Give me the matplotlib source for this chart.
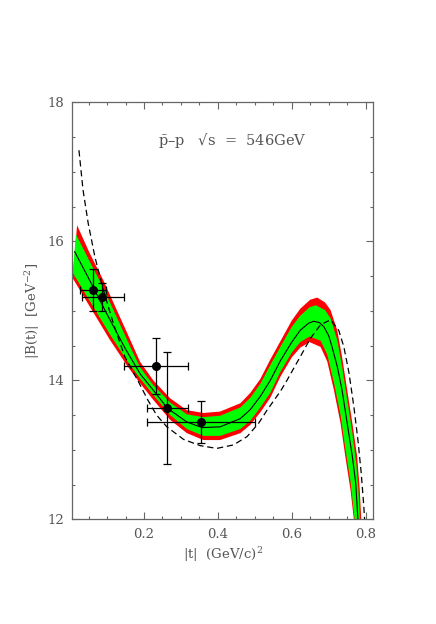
import numpy as np
import matplotlib
matplotlib.use("Agg")
import matplotlib.pyplot as plt
from matplotlib.ticker import MultipleLocator

# ---------------- data ----------------
# data points
pt_x = [0.061, 0.087, 0.233, 0.263, 0.354]
pt_y = [15.30, 15.20, 14.21, 13.60, 13.40]
pt_xlo = [0.026, 0.031, 0.147, 0.207, 0.207]
pt_xhi = [0.098, 0.147, 0.320, 0.320, 0.501]
pt_yerr = [0.30, 0.20, 0.40, 0.80, 0.30]

# central fit curve
cen_x = [0.0125, 0.05, 0.10, 0.15, 0.19, 0.225, 0.263, 0.316, 0.357, 0.406,
         0.461, 0.488, 0.515, 0.542, 0.569, 0.600, 0.623, 0.645, 0.659, 0.675,
         0.687, 0.700, 0.709, 0.723, 0.736, 0.750, 0.764, 0.773, 0.779, 0.782]
cen_y = [15.85, 15.47, 14.95, 14.45, 14.09, 13.86, 13.60, 13.40, 13.32, 13.33,
         13.45, 13.58, 13.77, 14.00, 14.28, 14.55, 14.72, 14.82, 14.85, 14.83,
         14.77, 14.64, 14.48, 14.20, 13.86, 13.38, 12.90, 12.52, 12.00, 11.80]

# outer (red) band
red_up_x = [0.019, 0.053, 0.090, 0.163, 0.189, 0.225, 0.271, 0.316, 0.361, 0.406,
            0.461, 0.488, 0.515, 0.542, 0.569, 0.600, 0.623, 0.650, 0.669, 0.690,
            0.705, 0.723, 0.736, 0.750, 0.764, 0.777, 0.784, 0.788, 0.790]
red_up_y = [16.23, 15.83, 15.44, 14.58, 14.27, 14.00, 13.74, 13.57, 13.53, 13.55,
            13.67, 13.82, 14.02, 14.30, 14.56, 14.86, 15.03, 15.16, 15.19, 15.12,
            15.01, 14.72, 14.34, 13.86, 13.38, 12.90, 12.42, 12.00, 11.80]
red_lo_x = [0.007, 0.050, 0.108, 0.153, 0.189, 0.225, 0.271, 0.316, 0.361, 0.406,
            0.461, 0.488, 0.515, 0.542, 0.569, 0.600, 0.623, 0.648, 0.678, 0.696,
            0.714, 0.732, 0.745, 0.759, 0.768, 0.772]
red_lo_y = [15.47, 15.09, 14.58, 14.22, 13.96, 13.72, 13.43, 13.24, 13.14, 13.14,
            13.24, 13.36, 13.54, 13.75, 14.05, 14.33, 14.47, 14.55, 14.48, 14.27,
            13.86, 13.38, 12.90, 12.42, 12.00, 11.80]

# inner (green) band
grn_up_x = [0.016, 0.053, 0.090, 0.163, 0.189, 0.225, 0.271, 0.316, 0.361, 0.406,
            0.461, 0.488, 0.515, 0.542, 0.569, 0.600, 0.623, 0.648, 0.665, 0.690,
            0.705, 0.723, 0.736, 0.750, 0.764, 0.775, 0.782, 0.786]
grn_up_y = [16.10, 15.71, 15.33, 14.48, 14.19, 13.93, 13.68, 13.51, 13.47, 13.49,
            13.61, 13.75, 13.95, 14.22, 14.48, 14.77, 14.93, 15.05, 15.08, 15.01,
            14.89, 14.58, 14.20, 13.72, 13.24, 12.78, 12.30, 11.80]
grn_lo_x = [0.007, 0.050, 0.108, 0.153, 0.189, 0.225, 0.271, 0.316, 0.361, 0.406,
            0.461, 0.488, 0.515, 0.542, 0.569, 0.600, 0.623, 0.648, 0.678, 0.696,
            0.714, 0.732, 0.745, 0.759, 0.770, 0.774]
grn_lo_y = [15.55, 15.17, 14.66, 14.29, 14.03, 13.79, 13.50, 13.30, 13.20, 13.20,
            13.30, 13.42, 13.61, 13.82, 14.12, 14.40, 14.55, 14.63, 14.57, 14.37,
            13.97, 13.50, 13.02, 12.54, 12.00, 11.80]

# dashed model curve
dash_x = [0.024, 0.035, 0.049, 0.067, 0.090, 0.117, 0.148, 0.185, 0.210, 0.234,
          0.262, 0.307, 0.352, 0.397, 0.442, 0.479, 0.510, 0.533, 0.569, 0.587,
          0.623, 0.650, 0.678, 0.705, 0.727, 0.741, 0.755, 0.768, 0.779, 0.788,
          0.795, 0.797, 0.799]
dash_y = [17.31, 16.74, 16.26, 15.78, 15.30, 14.82, 14.34, 13.98, 13.72, 13.50,
          13.33, 13.15, 13.06, 13.02, 13.07, 13.19, 13.38, 13.57, 13.84, 14.00,
          14.34, 14.60, 14.80, 14.87, 14.72, 14.48, 14.10, 13.62, 13.14, 12.66,
          12.18, 12.00, 11.80]

x_ticks = [0.2, 0.4, 0.6, 0.8]
x_ticklabels = ["0.2", "0.4", "0.6", "0.8"]
y_ticks = [12, 14, 16, 18]
y_ticklabels = ["12", "14", "16", "18"]

# ---------------- plot ----------------
plt.rcParams['font.family'] = ['DejaVu Serif', 'DejaVu Sans']
plt.rcParams['mathtext.fontset'] = 'dejavuserif'

fig = plt.figure(figsize=(4.36, 6.24), dpi=100)
ax = fig.add_axes([72.3 / 436, 1 - 519.3 / 624, (373.3 - 72.3) / 436, (519.3 - 102.3) / 624])

gray = '#666666'
tgray = '#555555'

ax.fill(np.concatenate([red_up_x, red_lo_x[::-1]]),
        np.concatenate([red_up_y, red_lo_y[::-1]]),
        color='#ff0000', lw=0, zorder=1)
ax.fill(np.concatenate([grn_up_x, grn_lo_x[::-1]]),
        np.concatenate([grn_up_y, grn_lo_y[::-1]]),
        color='#00ff00', lw=0, zorder=2)
ax.plot(cen_x, cen_y, color='black', lw=0.8, zorder=3)
ax.plot(dash_x, dash_y, color='black', lw=0.9, dashes=(5, 3), zorder=3)

xerr = [np.array(pt_x) - np.array(pt_xlo), np.array(pt_xhi) - np.array(pt_x)]
ax.errorbar(pt_x, pt_y, xerr=xerr, yerr=pt_yerr, fmt='o', color='black',
            ms=5.5, elinewidth=0.9, capsize=2.6, capthick=0.9, zorder=4)

ax.set_xlim(0.006, 0.8206)
ax.set_ylim(12, 18)
ax.set_xticks(x_ticks)
ax.set_xticklabels(x_ticklabels)
ax.set_yticks(y_ticks)
ax.set_yticklabels(y_ticklabels)
ax.xaxis.set_minor_locator(MultipleLocator(0.05))
ax.yaxis.set_minor_locator(MultipleLocator(0.5))
ax.tick_params(which='both', direction='in', top=True, right=True,
               color=gray, labelcolor=tgray, labelsize=9.5)
ax.tick_params(which='major', length=5, width=0.8, pad=6)
ax.tick_params(which='minor', length=2.5, width=0.8)
for s in ax.spines.values():
    s.set_color(gray)
    s.set_linewidth(0.9)

ax.set_xlabel(r'|t|  (GeV/c)$^2$', color=tgray, fontsize=9.5, labelpad=3)
ax.set_ylabel(r'|B(t)|  [GeV$^{-2}$]', color=tgray, fontsize=9.5, labelpad=4)

ax.text(0.239, 17.45, r'$\bar{\rm p}$–p   √s  =  546GeV', color=tgray,
        fontsize=10.5, ha='left', va='center')

fig.savefig('out.png', dpi=100)
